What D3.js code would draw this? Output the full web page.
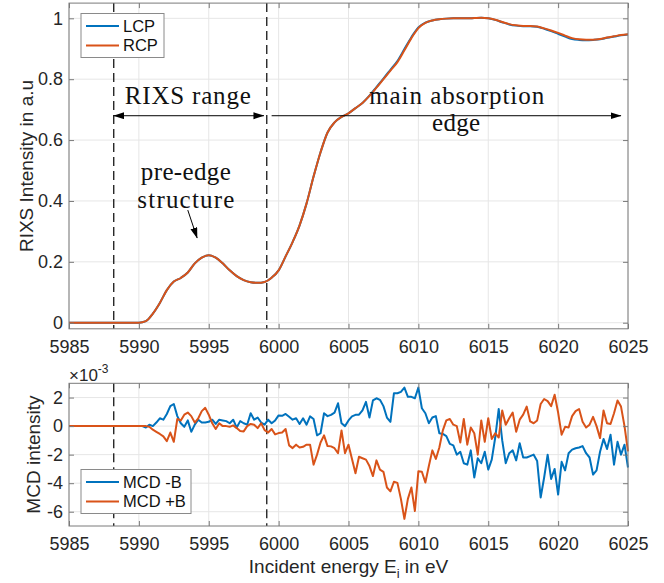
<!DOCTYPE html>
<html><head><meta charset="utf-8">
<script src="https://cdn.jsdelivr.net/npm/d3@7"></script>
<style>body{margin:0;background:#fff}svg{display:block}</style>
</head><body>
<script>
// ---------- data ----------
const xTicks = [5985, 5990, 5995, 6000, 6005, 6010, 6015, 6020, 6025];
const topYTicks = [0, 0.2, 0.4, 0.6, 0.8, 1];
const topYTickLabels = ["0", "0.2", "0.4", "0.6", "0.8", "1"];
const mcdYTicks = [-6, -4, -2, 0, 2];
const mcdYTickLabels = ["-6", "-4", "-2", "0", "2"];

// XAS spectra, 0.5 eV sampling from 5985 to 6025 eV
const xasEnergy = d3.range(5985, 6025.001, 0.5);
const rcp = [0,0,0,0,0,0,0,0,0,0,0,
  0.005,0.03,0.065,0.107,0.135,0.147,0.165,0.195,0.214,0.222,
  0.214,0.195,0.172,0.153,0.140,0.133,0.131,0.134,0.148,0.172,
  0.218,0.265,0.32,0.392,0.48,0.56,0.625,0.658,0.676,0.688,
  0.705,0.722,0.745,0.772,0.80,0.828,0.856,0.895,0.935,0.968,
  0.985,0.993,0.997,0.999,1.0,1.0,1.0,1.001,1.002,1.0,
  0.995,0.988,0.981,0.977,0.975,0.975,0.973,0.967,0.96,0.952,
  0.943,0.935,0.931,0.930,0.930,0.932,0.937,0.941,0.945,0.948];
const lcp = [0,0,0,0,0,0,0,0,0,0,0,
  0.005,0.03,0.065,0.107,0.135,0.147,0.165,0.195,0.214,0.222,
  0.214,0.195,0.172,0.153,0.140,0.133,0.131,0.134,0.148,0.172,
  0.218,0.265,0.32,0.392,0.48,0.56,0.625,0.658,0.676,0.688,
  0.705,0.722,0.746,0.774,0.802,0.831,0.860,0.899,0.938,0.970,
  0.986,0.993,0.997,0.999,1.0,1.0,1.0,1.001,1.002,1.0,
  0.995,0.987,0.980,0.976,0.974,0.974,0.972,0.966,0.958,0.949,
  0.940,0.932,0.929,0.928,0.929,0.931,0.936,0.940,0.944,0.947];

// MCD (x1e-3), first point 5985 eV then 0.25 eV sampling from 5990 to 6025 eV
const mcdEnergy = [5985].concat(d3.range(5990, 6025.001, 0.25));
const mcdMinusB = [0,
  0,0,-0.1,0.1,0.0,0.25,0.55,0.45,0.85,1.4,1.55,0.7,0.2,-0.05,0.4,-0.4,0.1,0.45,0.25,0.25,
  0.3,0.45,0.15,0.45,0.4,0.35,0.2,0.45,-0.1,0.35,0.2,0.1,0.9,0.45,0.6,0.25,0.1,0.45,0.2,0.4,
  0.75,0.72,0.85,0.65,0.45,0.55,0.15,0.55,0.1,0.68,0.5,-0.65,-0.5,0.9,0.7,0.79,0.95,1.6,0.2,0.0,
  0.4,0.68,0.79,0.8,1.1,1.7,0.6,1.8,1.95,1.84,
  1.4,0.6,0.3,2.3,2.3,2.4,2.7,2.05,2.05,1.95,2.7,1.25,0.9,0.2,0.6,0.7,-0.5,-0.55,-0.7,-1.25,
  -1.35,-2.0,-1.8,-2.6,-2.7,-1.7,-3.6,-2.25,-2.6,-1.8,-3.05,-2.35,-0.8,1.2,
  -1.0,-2.6,-1.9,-1.7,-2.4,-1.2,-2.2,-2.2,-2.1,-2.0,-2.45,-5.0,-3.6,-2.0,-3.7,-3.0,-4.8,-2.5,-3.1,-1.9,
  -1.65,-1.55,-1.5,-1.4,-1.9,-2.2,-3.4,-3.1,-1.8,-0.9,-1.6,-0.6,-2.7,-1.1,-2.0,-1.3,-2.9];
const mcdPlusB = [0,
  0,0,0,-0.05,-0.25,-0.4,-0.55,-0.72,-1.05,-0.45,-1.1,0.5,0.4,0.8,0.95,0.7,0.25,0.55,1.05,1.28,
  0.8,0.2,-0.2,0.2,0.0,0.0,-0.05,0.05,-0.14,-0.35,-0.37,0.0,0.15,0.1,-0.14,0.2,-0.28,-0.45,-0.2,-0.58,
  -0.49,-0.45,-0.2,-1.35,-1.54,-1.3,-1.5,-1.45,-1.3,-1.3,-2.7,-2.0,-1.15,-0.65,-1.4,-1.42,-1.55,-1.9,-0.3,-1.9,
  -1.3,-2.3,-3.3,-2.15,-2.25,-2.35,-2.8,-3.5,-2.4,-3.05,
  -3.2,-4.3,-4.57,-3.9,-3.98,-5.1,-6.5,-5.1,-4.3,-5.95,-3.17,-3.2,-3.95,-2.8,-1.7,-2.3,-1.5,-0.3,0.4,0.5,
  0.1,0.0,-1.15,0.5,-1.3,-0.1,-0.5,-2.0,0.4,-1.1,0.55,-0.9,-0.5,-0.8,
  1.1,0.1,0.55,0.95,-0.4,0.45,0.8,1.37,0.33,0.2,0.4,1.55,1.9,1.75,1.4,2.2,0.95,-0.6,-0.05,-0.1,
  0.7,1.05,1.2,0.3,-0.1,0.1,0.65,0.0,-0.84,1.1,0.2,0.15,0.9,1.8,1.37,0.0,-1.77];

const rixsRangeEnergy = [5988.2, 5999.15];
const mainEdgeEnergy = [5999.5, 6024.5];
const arrowLevel = 0.68;

// ---------- layout ----------
const W = 664, H = 583;
const BLUE = "#0072BD", ORANGE = "#D95319";
const AXC = "#262626", BOXC = "#7a7a7a", GRIDC = "#e6e6e6";
const FONT = "'Liberation Sans', Arial, Helvetica, sans-serif";
const SERIF = "'Liberation Serif', 'Times New Roman', serif";

const svg = d3.select("body").append("svg").attr("width", W).attr("height", H)
  .style("background", "#fff");

const defs = svg.append("defs");
defs.append("marker").attr("id", "ah").attr("markerUnits", "userSpaceOnUse")
  .attr("markerWidth", 11).attr("markerHeight", 8).attr("refX", 10.5).attr("refY", 3.5)
  .attr("orient", "auto-start-reverse")
  .append("path").attr("d", "M0,0 L11,3.5 L0,7 Z").attr("fill", "#000");

const x = d3.scaleLinear().domain([5985, 6025]).range([69, 628]);
const yTop = d3.scaleLinear().domain([-0.02, 1.05]).range([328.8, 3.1]);
const yBot = d3.scaleLinear().domain([-7, 3]).range([526, 383.3]);

function panel(yScale, yTicks) {
  const g = svg.append("g");
  const [y0, y1] = yScale.range();
  g.append("g").selectAll("line").data(xTicks).join("line")
    .attr("x1", d => x(d)).attr("x2", d => x(d)).attr("y1", y1).attr("y2", y0)
    .attr("stroke", GRIDC).attr("stroke-width", 1);
  g.append("g").selectAll("line").data(yTicks).join("line")
    .attr("x1", 69).attr("x2", 628).attr("y1", d => yScale(d)).attr("y2", d => yScale(d))
    .attr("stroke", GRIDC).attr("stroke-width", 1);
  return g;
}

function axes(yScale, yTicks, yLabels) {
  const [y0, y1] = yScale.range();
  const g = svg.append("g");
  const ax = d3.axisBottom(x).tickValues(xTicks).tickSize(-5).tickPadding(11).tickFormat(d3.format("d"));
  const gb = g.append("g").attr("transform", `translate(0,${y0})`).call(ax);
  const gt = g.append("g").attr("transform", `translate(0,${y1})`)
    .call(d3.axisTop(x).tickValues(xTicks).tickSize(-5).tickFormat(""));
  const gl = g.append("g").attr("transform", `translate(69,0)`)
    .call(d3.axisLeft(yScale).tickValues(yTicks).tickSize(-5).tickPadding(6)
      .tickFormat((d, i) => yLabels[i]));
  const gr = g.append("g").attr("transform", `translate(628,0)`)
    .call(d3.axisRight(yScale).tickValues(yTicks).tickSize(-5).tickFormat(""));
  [gb, gt, gl, gr].forEach(s => {
    s.select(".domain").remove();
    s.selectAll(".tick line").attr("stroke", BOXC);
    s.selectAll("text").attr("fill", AXC).style("font-family", FONT).style("font-size", "18px");
  });
  g.append("rect").attr("x", 69).attr("y", y1).attr("width", 628 - 69).attr("height", y0 - y1)
    .attr("fill", "none").attr("stroke", BOXC).attr("stroke-width", 1);
}

function dashed(yScale) {
  const [y0, y1] = yScale.range();
  svg.append("g").selectAll("line").data(rixsRangeEnergy).join("line")
    .attr("x1", d => x(d)).attr("x2", d => x(d)).attr("y1", y1).attr("y2", y0)
    .attr("stroke", "#262626").attr("stroke-width", 1.4).attr("stroke-dasharray", "9,5");
}

// ---------- top panel ----------
panel(yTop, topYTicks);
dashed(yTop);
const lineTop = (vals) => d3.line().x((d, i) => x(xasEnergy[i])).y(d => yTop(d)).curve(d3.curveMonotoneX)(vals);
svg.append("path").attr("d", lineTop(lcp)).attr("fill", "none").attr("stroke", BLUE).attr("stroke-width", 2);
svg.append("path").attr("d", lineTop(rcp)).attr("fill", "none").attr("stroke", ORANGE).attr("stroke-width", 2);
axes(yTop, topYTicks, topYTickLabels);

// annotations (data coordinates)
svg.append("line").attr("x1", x(rixsRangeEnergy[0])).attr("x2", x(5998.95))
  .attr("y1", yTop(arrowLevel)).attr("y2", yTop(arrowLevel))
  .attr("stroke", "#000").attr("stroke-width", 1)
  .attr("marker-start", "url(#ah)").attr("marker-end", "url(#ah)");
svg.append("line").attr("x1", x(mainEdgeEnergy[0])).attr("x2", x(mainEdgeEnergy[1]))
  .attr("y1", yTop(arrowLevel)).attr("y2", yTop(arrowLevel))
  .attr("stroke", "#000").attr("stroke-width", 1).attr("marker-end", "url(#ah)");
svg.append("line").attr("x1", x(5993.5)).attr("y1", yTop(0.37))
  .attr("x2", x(5994.17)).attr("y2", yTop(0.278))
  .attr("stroke", "#000").attr("stroke-width", 1).attr("marker-end", "url(#ah)");

const notes = [
  {t: "RIXS range", e: 5993.5, v: 0.717, w: 126},
  {t: "main absorption", e: 6012.74, v: 0.718, w: 175},
  {t: "edge", e: 6012.7, v: 0.629, w: 48},
  {t: "pre-edge", e: 5993.36, v: 0.469, w: 90},
  {t: "structure", e: 5993.36, v: 0.376, w: 97}
];
svg.append("g").selectAll("text").data(notes).join("text")
  .attr("x", d => x(d.e)).attr("y", d => yTop(d.v)).attr("text-anchor", "middle")
  .attr("textLength", d => d.w).attr("lengthAdjust", "spacing")
  .style("font-family", SERIF).style("font-size", "25px").attr("fill", "#111")
  .text(d => d.t);

// ---------- bottom panel ----------
panel(yBot, mcdYTicks);
dashed(yBot);
const lineBot = (vals) => d3.line().x((d, i) => x(mcdEnergy[i])).y(d => yBot(d))(vals);
svg.append("path").attr("d", lineBot(mcdMinusB)).attr("fill", "none").attr("stroke", BLUE).attr("stroke-width", 2).attr("stroke-linejoin", "round");
svg.append("path").attr("d", lineBot(mcdPlusB)).attr("fill", "none").attr("stroke", ORANGE).attr("stroke-width", 2).attr("stroke-linejoin", "round");
axes(yBot, mcdYTicks, mcdYTickLabels);

// exponent label
const ex = svg.append("text").attr("x", 69).attr("y", 381).attr("fill", AXC)
  .style("font-family", FONT).style("font-size", "17px");
ex.append("tspan").text("\u00d710");
ex.append("tspan").attr("dy", -8).style("font-size", "12px").text("-3");

// ---------- axis labels ----------
svg.append("text").attr("transform", "translate(33,166) rotate(-90)").attr("text-anchor", "middle")
  .attr("fill", AXC).style("font-family", FONT).style("font-size", "19px").text("RIXS Intensity in a.u");
svg.append("text").attr("transform", "translate(40,454.5) rotate(-90)").attr("text-anchor", "middle")
  .attr("fill", AXC).style("font-family", FONT).style("font-size", "19px").text("MCD intensity");
const xl = svg.append("text").attr("x", 348.5).attr("y", 573).attr("text-anchor", "middle")
  .attr("fill", AXC).style("font-family", FONT).style("font-size", "19px");
xl.append("tspan").text("Incident energy E");
xl.append("tspan").attr("dy", 5).style("font-size", "13px").text("i");
xl.append("tspan").attr("dy", -5).text(" in eV");

// ---------- legends ----------
function legend(x0, y0, w, h, entries) {
  const g = svg.append("g");
  g.append("rect").attr("x", x0).attr("y", y0).attr("width", w).attr("height", h)
    .attr("fill", "#fff").attr("stroke", "#8a8a8a").attr("stroke-width", 1);
  entries.forEach((e, i) => {
    const yy = y0 + 12.5 + i * 19.5;
    g.append("line").attr("x1", x0 + 5).attr("x2", x0 + 38).attr("y1", yy).attr("y2", yy)
      .attr("stroke", e.c).attr("stroke-width", 2);
    g.append("text").attr("x", x0 + 42).attr("y", yy).attr("dy", "0.35em").attr("fill", "#111")
      .style("font-family", FONT).style("font-size", "16.5px").text(e.t);
  });
}
legend(81, 13.5, 83, 44, [{t: "LCP", c: BLUE}, {t: "RCP", c: ORANGE}]);
legend(81, 469.5, 110, 44, [{t: "MCD -B", c: BLUE}, {t: "MCD +B", c: ORANGE}]);
</script>
</body></html>
